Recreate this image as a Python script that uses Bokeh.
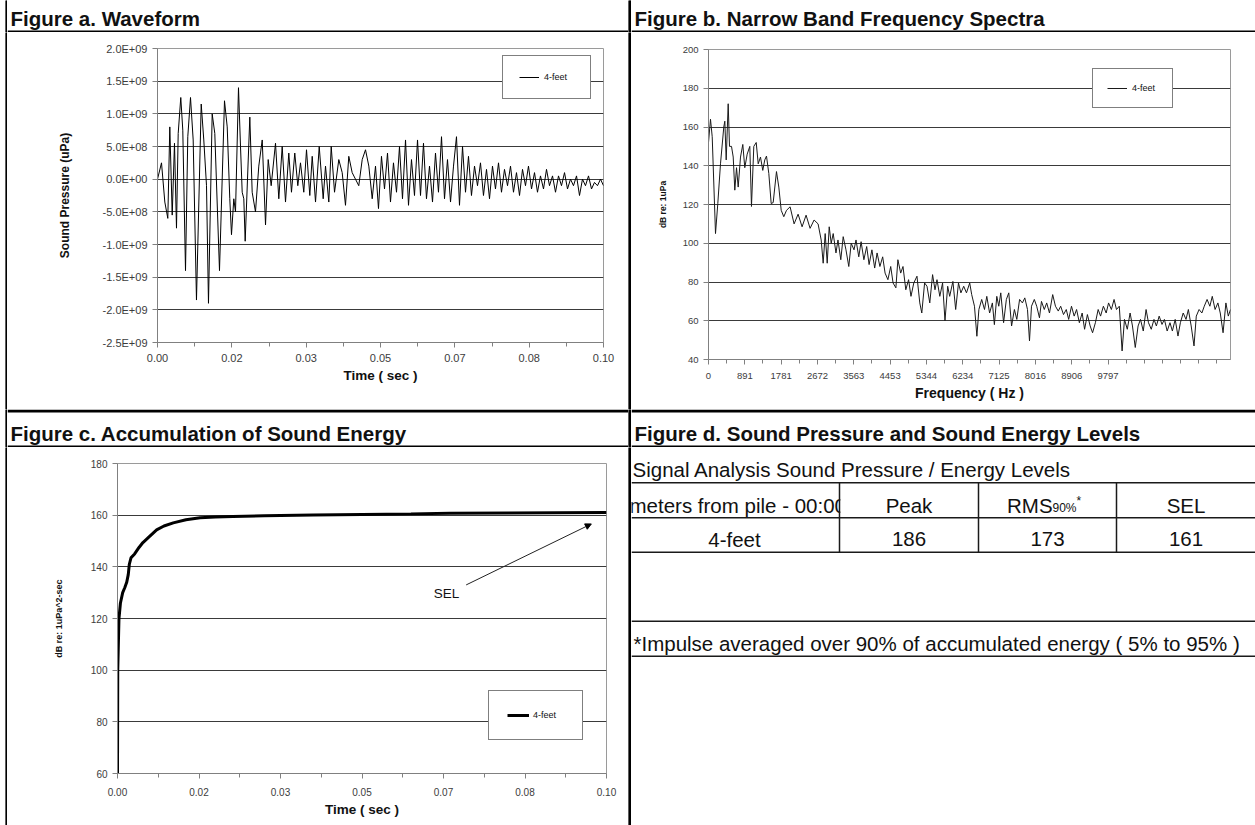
from bokeh.plotting import figure
from bokeh.models import Range1d, FixedTicker, Legend, LegendItem, Arrow, NormalHead, Label, Spacer
from bokeh.layouts import row, column
from bokeh.core.properties import value
from bokeh.embed import file_html
from bokeh.resources import INLINE

FONT = "Liberation Sans"
INK = "#111111"

# ---------------- data ----------------
panel_titles = ["Figure a. Waveform",
                "Figure b. Narrow Band Frequency Spectra",
                "Figure c. Accumulation of Sound Energy",
                "Figure d. Sound Pressure and Sound Energy Levels"]
series_name = "4-feet"

# Figure a: waveform (time in ms, pressure in 1E8 uPa)
wave_time_ms = [0.00, 0.90, 1.64, 2.31, 2.76, 3.30, 3.81, 4.26, 4.64, 5.22,
                5.67, 6.28, 6.79, 7.40, 8.00, 8.74, 9.80, 10.38, 10.99, 11.43,
                12.26, 12.85, 13.90, 15.02, 15.63, 16.21, 16.59, 17.11, 17.49, 18.16,
                18.61, 18.99, 19.35, 19.66, 20.70, 21.23, 21.97, 22.71, 23.48, 24.22,
                24.82, 25.49, 26.46, 27.20, 27.96, 28.70, 29.44, 30.04, 30.78, 31.46,
                32.06, 32.80, 33.41, 34.15, 34.69, 35.43, 36.26, 37.15, 37.67, 38.41,
                38.95, 39.69, 40.65, 41.41, 42.15, 42.89, 43.65, 44.39, 45.13, 45.90,
                46.64, 47.38, 48.14, 48.88,
                49.55, 50.22, 50.90, 51.57, 52.24, 52.91, 53.59, 54.26, 54.93, 55.61,
                56.28, 56.95, 57.62, 58.30, 58.97, 59.64, 60.31, 60.99, 61.66, 62.33,
                63.00, 63.68, 64.35, 65.02, 65.70, 66.37, 67.04, 67.71, 68.39, 69.06,
                69.73, 70.40, 71.08, 71.75, 72.42, 73.09, 73.77, 74.44, 75.11, 75.78,
                76.46, 77.13, 77.80, 78.48, 79.15, 79.82, 80.49, 81.17, 81.84, 82.51,
                83.18, 83.86, 84.53, 85.20, 85.87, 86.55, 87.22, 87.89, 88.57, 89.24,
                89.91, 90.58, 91.26, 91.93, 92.60, 93.27, 93.95, 94.62, 95.29, 95.96,
                96.64, 97.31, 97.98, 98.65, 99.33, 100.0]
wave_pressure_e8 = [0.0, 2.5, -3.5, -6.0, 8.0, -5.5, 5.5, -7.5, 7.0, 12.5,
                    7.5, -14.0, 6.5, 12.5, 6.0, -18.5, 11.5, 6.0, -1.0, -19.0,
                    10.0, 7.0, -14.0, 12.0, 8.0, -3.0, -8.5, -3.0, -5.0, 14.0,
                    5.0, -2.0, -3.0, -9.5, 9.5, -2.0, -5.0, 2.0, 6.0, -7.0,
                    3.0, -1.0, 5.5, -3.0, 5.0, -3.5, 4.0, -2.0, 4.0, -1.0,
                    2.5, -2.0, 4.5, -2.5, 3.5, -3.5, 5.0, -3.0, 2.0, -3.5,
                    5.0, -2.0, 3.0, 1.0, -4.0, 3.5, 1.0, 0.0, -1.0, 3.0,
                    4.5, 2.0, -3.0, 2.0,
                    -4.5, 3.5, -1.5, 4.0, -3.5, 2.5, -2.0, 5.0, -3.0, 6.0,
                    -4.0, 3.0, -2.5, 6.0, -2.5, 5.5, -3.0, 2.0, -3.5, 4.0,
                    -2.0, 6.5, -3.0, 3.0, -3.5, 2.0, 6.5, -4.0, 5.0, -2.0,
                    3.5, -2.5, 2.0, -1.0, 2.5, -2.5, 1.5, -3.0, 2.0, -1.5,
                    2.5, -2.0, 1.5, -1.0, 2.0, -2.0, 1.0, -2.5, 1.5, -1.0,
                    2.0, -1.5, 1.0, -2.0, 0.5, -1.5, 1.5, -1.0, 0.5, -2.0,
                    0.5, -1.0, 1.0, -1.5, 0.0, -1.0, 0.5, -2.5, 0.0, -1.0,
                    0.5, -1.5, -0.5, -1.0, 0.0, -1.0]
wave_y_ticks = [-2.5e9, -2.0e9, -1.5e9, -1.0e9, -0.5e9, 0.0, 0.5e9, 1.0e9, 1.5e9, 2.0e9]
wave_y_labels = ["-2.5E+09", "-2.0E+09", "-1.5E+09", "-1.0E+09", "-5.0E+08",
                 "0.0E+00", "5.0E+08", "1.0E+09", "1.5E+09", "2.0E+09"]
time_tick_labels = ["0.00", "0.02", "0.03", "0.05", "0.07", "0.08", "0.10"]

# Figure b: narrow band spectrum
spec_freq_hz = [0, 49, 91, 172, 228, 294, 375, 400, 434, 483,
                515, 564, 606, 645, 687, 728, 785, 841, 890, 949,
                1013, 1054, 1111, 1170, 1219, 1275, 1331, 1380, 1422, 1479,
                1537, 1586, 1667, 1724, 1783, 1846, 1913, 2001, 2099, 2197,
                2295, 2393, 2491, 2589, 2687, 2763, 2812, 2861, 2911, 2960,
                3009, 3058, 3126, 3175, 3244, 3303, 3371, 3440, 3499, 3568,
                3617, 3685, 3742, 3810, 3879, 3938, 4007, 4075, 4134, 4203,
                4271, 4330, 4399, 4468, 4526, 4595, 4644, 4713, 4769, 4838,
                4906, 4965, 5034, 5112, 5181, 5230, 5299, 5358, 5426, 5495,
                5554, 5603, 5672, 5740, 5799, 5865, 5914, 5993, 6061, 6130,
                6189, 6258, 6326, 6405, 6454, 6522, 6581, 6630, 6699, 6768,
                6824, 6893, 6961, 7010, 7069, 7118, 7167, 7236, 7304, 7363,
                7432, 7501, 7560, 7628, 7697, 7756, 7822, 7871, 7920, 7989,
                8048, 8116, 8165, 8234, 8293, 8361, 8440, 8508, 8577, 8636,
                8705, 8773, 8832, 8901, 8967, 9026, 9094, 9163, 9222, 9291,
                9359, 9418, 9487, 9555, 9614, 9683, 9752, 9810, 9879, 9945,
                10004, 10073, 10142, 10200, 10269, 10338, 10396, 10465, 10534, 10593,
                10661, 10730, 10789, 10857, 10924, 10982, 11051, 11120, 11179, 11247,
                11316, 11375, 11444, 11512, 11571, 11640, 11709, 11767, 11836, 11905,
                11961, 12030, 12098, 12157, 12226, 12294, 12353, 12422, 12491, 12549,
                12618, 12687, 12746, 12800]
spec_level_db = [152, 164, 155, 105, 120.5, 141, 160, 163, 143, 172,
                 150, 150, 144.5, 127.4, 139, 129, 144.5, 151, 139, 146,
                 150, 119, 150, 152, 141, 144.5, 137.6, 143, 145, 136,
                 120.5, 121, 137, 129, 117, 113.7, 117, 118.8, 110, 115,
                 108.5, 114.5, 107.7, 112, 110, 101.7, 89.7, 105, 89.7, 108.5,
                 100, 105, 95, 101.7, 91.5, 103.4, 96.6, 88, 100, 96.6,
                 101.7, 93, 100.8, 91.5, 98.3, 89, 96.6, 87.2, 95, 88,
                 93, 84.6, 81.2, 88, 79.5, 77, 91.5, 84.6, 88, 76,
                 81.2, 72.6, 79.5, 83, 69.2, 64, 79.5, 77.8, 69.2, 83.8,
                 76, 81.2, 72.6, 79.5, 60, 77.8, 72.6, 80.3, 65.8, 79.5,
                 74.4, 77.8, 74.4, 79.5, 73.5, 67.5, 52, 65.8, 71, 65.8,
                 72.6, 64, 69.2, 58, 72.6, 67.5, 74.4, 59, 71, 74.4,
                 57.3, 65.8, 60.7, 71, 69.2, 71.8, 65.8, 49.6, 67.5, 71,
                 67.5, 61.5, 70, 65.8, 69.2, 64, 73.5, 67.5, 65, 67.5,
                 63.2, 65.8, 60.7, 67.5, 62.4, 65.8, 59, 64, 55.6, 63.2,
                 57.3, 53.8, 59, 65.8, 62.4, 67.5, 64, 69.2, 65.8, 71,
                 65.8, 67.5, 44.4, 60.7, 55.6, 64, 57.3, 46.2, 57.3, 60.7,
                 54.7, 65.8, 59, 55.6, 60.7, 57.3, 62.4, 58.1, 60.7, 54.7,
                 59, 54.7, 60.7, 52.1, 59, 64, 60.7, 65.8, 57.3, 47,
                 62.4, 65.8, 64, 67.5, 71, 67.5, 72.6, 65.8, 69.2, 64,
                 53.8, 69.2, 62.4, 65.8]
freq_tick_values = [0, 891, 1781, 2672, 3563, 4453, 5344, 6234, 7125, 8016, 8906, 9797]
freq_tick_labels = ["0", "891", "1781", "2672", "3563", "4453", "5344", "6234",
                    "7125", "8016", "8906", "9797"]
spec_y_ticks = [40, 60, 80, 100, 120, 140, 160, 180, 200]

# Figure c: accumulated sound energy
sel_time_s = [0.0, 0.00005, 0.0003, 0.0006, 0.00106, 0.0015, 0.00188, 0.0022, 0.00242, 0.00276,
              0.0035, 0.0044, 0.0052, 0.0064, 0.0080, 0.0095, 0.0114, 0.0140, 0.0169, 0.0200,
              0.0236, 0.030, 0.040, 0.050, 0.060, 0.068, 0.080, 0.090, 0.100]
sel_level_db = [60, 100, 120, 126, 130, 132, 134, 137, 141, 143.5,
                145, 147.5, 149.4, 151.5, 154.3, 155.8, 157, 158.2, 159, 159.3,
                159.5, 159.8, 160.1, 160.3, 160.5, 160.7, 160.8, 160.9, 161.0]
sel_y_ticks = [60, 80, 100, 120, 140, 160, 180]
sel_note = "SEL"

# Figure d: table
table_title = "Signal Analysis Sound Pressure / Energy Levels"
table_headers = ["meters from pile - 00:00", "Peak", "RMS", "SEL"]
rms_sub = "90%"
rms_star = "*"
table_row_label = "4-feet"
table_values = [186, 173, 161]
table_note = "*Impulse averaged over 90% of accumulated energy ( 5% to 95% )"


# ---------------- helpers ----------------
def bare(width, height, xr, yr):
    p = figure(width=width, height=height, x_range=xr, y_range=yr, min_border=0,
               x_axis_location=None, y_axis_location=None, toolbar_location=None,
               output_backend="svg", outline_line_color=None, frame_align=False)
    p.grid.visible = False
    return p


def black_bar(width, height):
    p = bare(width, height, Range1d(0, 1), Range1d(0, 1))
    p.background_fill_color = "black"
    p.border_fill_color = "black"
    p.quad(left=0, right=1, bottom=0, top=1, fill_color="black", line_color=None)
    return p


def title_fig(width, height, text, tx, ty, rules):
    p = bare(width, height, Range1d(0, width), Range1d(height, 0))
    for (y0, y1) in rules:
        p.quad(left=0, right=width, top=y0, bottom=y1, fill_color="black", line_color=None)
    p.text(x=[tx], y=[ty], text=[text], text_font=value(FONT), text_font_style="bold",
           text_font_size="20.5px", text_color=INK, text_baseline="middle",
           text_align="left")
    return p


def style_chart(p, tick_px, xlabel, ylabel, xlabel_px, ylabel_px,
                x_label_standoff, x_title_standoff, y_title_standoff):
    p.background_fill_color = "white"
    p.outline_line_color = "#9a9a9a"
    p.outline_line_width = 1
    p.xgrid.visible = False
    p.ygrid.grid_line_color = "#3a3a3a"
    p.ygrid.grid_line_width = 1
    for ax in p.axis:
        ax.axis_line_color = "#808080"
        ax.major_tick_line_color = "#808080"
        ax.minor_tick_line_color = "#808080"
        ax.major_tick_out = 5
        ax.major_tick_in = 0
        ax.minor_tick_out = 4
        ax.minor_tick_in = 0
        ax.major_label_text_font = FONT
        ax.major_label_text_font_size = tick_px
        ax.major_label_text_color = "#3c3c3c"
        ax.axis_label_text_font = FONT
        ax.axis_label_text_font_style = "bold"
        ax.axis_label_text_color = INK
    p.xaxis.axis_label = xlabel
    p.xaxis.axis_label_text_font_size = xlabel_px
    p.xaxis.major_label_standoff = x_label_standoff
    p.xaxis.axis_label_standoff = x_title_standoff
    p.yaxis.axis_label = ylabel
    p.yaxis.axis_label_text_font_size = ylabel_px
    p.yaxis.major_label_standoff = 5
    p.yaxis.axis_label_standoff = y_title_standoff


def add_legend(p, renderer, loc, padding, gw, gh, lw, standoff, font_px):
    leg = Legend(items=[LegendItem(label=series_name, renderers=[renderer])],
                 location=loc, padding=padding, spacing=0, margin=0,
                 glyph_width=gw, glyph_height=gh, label_height=gh, label_width=lw,
                 label_standoff=standoff, label_text_font=FONT,
                 label_text_font_size=font_px, label_text_color=INK,
                 border_line_color="black", border_line_width=1,
                 background_fill_color="white", background_fill_alpha=1.0)
    p.add_layout(leg)


time_ticks = [i / 60 for i in range(7)]
time_minor = [(i + 0.5) / 60 for i in range(6)]

# ---------------- Figure a ----------------
pa = figure(width=621, height=377, x_range=Range1d(0, 0.1), y_range=Range1d(-2.5e9, 2.0e9),
            min_border_left=150, min_border_right=25, min_border_top=16, min_border_bottom=67,
            toolbar_location=None, output_backend="svg", frame_align=False)
ra = pa.line([t / 1000.0 for t in wave_time_ms], [v * 1e8 for v in wave_pressure_e8],
             line_color="black", line_width=1)
style_chart(pa, "11px", "Time ( sec )", "Sound Pressure (uPa)", "13.5px", "12px", 6, 3, 28)
tka = FixedTicker(ticks=time_ticks, minor_ticks=time_minor)
pa.xaxis.ticker = tka
pa.xaxis.major_label_overrides = dict(zip(time_ticks, time_tick_labels))
tya = FixedTicker(ticks=wave_y_ticks, minor_ticks=[])
pa.yaxis.ticker = tya
pa.ygrid.ticker = tya
pa.yaxis.major_label_overrides = dict(zip(wave_y_ticks, wave_y_labels))
add_legend(pa, ra, (345, 243), 16, 20, 10, 30, 5, "9px")

# ---------------- Figure b ----------------
pb = figure(width=624, height=377, x_range=Range1d(0, 12800), y_range=Range1d(40, 200),
            min_border_left=77, min_border_right=25, min_border_top=17, min_border_bottom=50,
            toolbar_location=None, output_backend="svg", frame_align=False)
rb = pb.line(spec_freq_hz, spec_level_db, line_color="#1a1a1a", line_width=1)
style_chart(pb, "9.5px", "Frequency ( Hz )", "dB re: 1uPa", "14px", "8.5px", 8, 3, 12)
tkb = FixedTicker(ticks=freq_tick_values,
                  minor_ticks=[k * 445.3 for k in range(1, 29)])
pb.xaxis.ticker = tkb
pb.xaxis.major_label_overrides = dict(zip(freq_tick_values, freq_tick_labels))
tyb = FixedTicker(ticks=spec_y_ticks, minor_ticks=[])
pb.yaxis.ticker = tyb
pb.ygrid.ticker = tyb
add_legend(pb, rb, (384, 251), 14, 20, 8, 26, 5, "9px")

# ---------------- Figure c ----------------
pc = figure(width=621, height=378, x_range=Range1d(0, 0.1), y_range=Range1d(60, 180),
            min_border_left=110, min_border_right=22, min_border_top=16, min_border_bottom=52,
            toolbar_location=None, output_backend="svg", frame_align=False)
rc = pc.line(sel_time_s, sel_level_db, line_color="black", line_width=3)
style_chart(pc, "10px", "Time ( sec )", "dB re: 1uPa^2-sec", "13.5px", "9px", 9, 3, 24)
tkc = FixedTicker(ticks=time_ticks, minor_ticks=time_minor)
pc.xaxis.ticker = tkc
pc.xaxis.major_label_overrides = dict(zip(time_ticks, time_tick_labels))
tyc = FixedTicker(ticks=sel_y_ticks, minor_ticks=[])
pc.yaxis.ticker = tyc
pc.ygrid.ticker = tyc
add_legend(pc, rc, (371, 33), 18, 22, 12, 31, 4, "9px")
pc.add_layout(Arrow(end=NormalHead(size=6, line_color="black", fill_color="black"),
                    x_start=0.0713, y_start=133.0, x_end=0.0969, y_end=156.6,
                    line_color="#222222", line_width=1))
pc.add_layout(Label(x=0.0673, y=129.6, text=sel_note, text_font=FONT, text_font_size="13.5px",
                    text_color=INK, text_align="center", text_baseline="middle"))

# ---------------- Figure d (table) ----------------
pdd = bare(624, 378, Range1d(631, 1255), Range1d(825, 447))
txt = dict(text_font=value(FONT), text_font_size="20.5px", text_color=INK)
pdd.text(x=[632], y=[469.3], text=[table_title], text_align="left", text_baseline="middle", **txt)
pdd.text(x=[629], y=[505], text=[table_headers[0]], text_align="left", text_baseline="middle", **txt)
pdd.quad(left=839.8, right=977.2, top=483.2, bottom=516.4, fill_color="white", line_color=None)
pdd.text(x=[908.5], y=[505], text=[table_headers[1]], text_align="center", text_baseline="middle", **txt)
pdd.text(x=[1006.5], y=[505], text=[table_headers[2]], text_align="left", text_baseline="middle", **txt)
pdd.text(x=[1052], y=[507], text=[rms_sub], text_align="left", text_baseline="middle",
         text_font=value(FONT), text_font_size="12px", text_color=INK)
pdd.text(x=[1076], y=[500], text=[rms_star], text_align="left", text_baseline="middle",
         text_font=value(FONT), text_font_size="12px", text_color=INK)
pdd.text(x=[1185.5], y=[505], text=[table_headers[3]], text_align="center", text_baseline="middle", **txt)
pdd.text(x=[734, 908.5, 1047, 1185.5], y=[538.7] * 4,
         text=[table_row_label] + [str(v) for v in table_values],
         text_align="center", text_baseline="middle", **txt)
pdd.text(x=[633], y=[643.3], text=[table_note], text_align="left", text_baseline="middle", **txt)
rule_y = [482.3, 517.3, 551.7, 620.7, 655.7]
pdd.segment(x0=[631] * len(rule_y), y0=rule_y, x1=[1255] * len(rule_y), y1=rule_y,
            line_color="#1a1a1a", line_width=1.5)
col_x = [839, 978, 1116]
pdd.segment(x0=col_x, y0=[482.3] * 3, x1=col_x, y1=[551.7] * 3,
            line_color="#1a1a1a", line_width=1.5)

# ---------------- title rows ----------------
ta = title_fig(621, 32, panel_titles[0], 3, 18, [(30, 32)])
tb = title_fig(624, 32, panel_titles[1], 3, 18, [(30, 32)])
tc = title_fig(621, 38, panel_titles[2], 3, 24, [(0, 3), (36, 38)])
td = title_fig(624, 38, panel_titles[3], 3, 24, [(0, 3), (36, 38)])


def page_row(h, left, right):
    return row(Spacer(width=5, height=h), black_bar(2, h), left, black_bar(3, h), right)


page = column(page_row(32, ta, tb), page_row(377, pa, pb),
              page_row(38, tc, td), page_row(378, pc, pdd))

open("out.html", "w").write(file_html(page, INLINE))
